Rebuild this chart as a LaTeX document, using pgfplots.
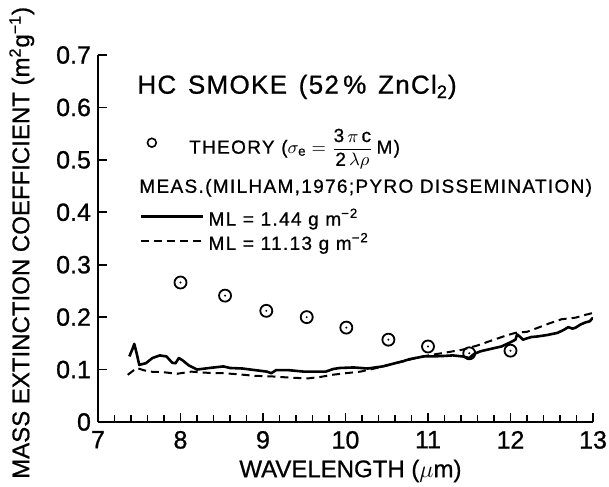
\documentclass[border=0pt]{standalone}
\usepackage{amsmath}
\usepackage{fontspec}
\setmainfont[FakeBold=0.8]{Liberation Sans}
\newfontfamily\legfont[LetterSpace=7,FakeBold=0.8]{Liberation Sans}
\newfontfamily\titfont[LetterSpace=5,FakeBold=0.8]{Liberation Sans}
\usepackage{pgfplots}
\pgfplotsset{compat=1.18}
\pgfdeclareplotmark{odot}{%
  \pgfpathcircle{\pgfpointorigin}{\pgfplotmarksize}\pgfusepathqstroke
  \pgfpathcircle{\pgfpointorigin}{0.55pt}\pgfusepathqfill}
\pgfplotsset{
  linelegend/.style={legend image code/.code={\draw[##1] (0pt,0pt) -- (31pt,0pt);}},
  marklegend/.style={legend image code/.code={\path plot[mark=o, mark size=2.2pt, mark options={line width=0.8pt}] coordinates {(5.3pt,0pt)};}},
}
\newcommand\mlstrut{\rule[-3.85pt]{0pt}{14.5pt}}
\begin{document}
\begin{tikzpicture}
\begin{axis}[
  name=ax,
  scale only axis, width=247.5pt, height=183.5pt,
  xmin=7, xmax=13, ymin=0, ymax=0.7,
  axis lines=left, axis line style={-, line width=1.2pt},
  xtick={7,8,9,10,11,12,13}, minor x tick num=4,
  ytick={0,0.1,0.2,0.3,0.4,0.5,0.6,0.7},
  yticklabels={0,0.1,0.2,0.3,0.4,0.5,0.6,0.7},
  tick align=inside,
  major tick length=4.5pt, minor tick length=3.5pt,
  every tick/.style={black, line width=0.9pt},
  /pgf/number format/assume math mode=true,
  tick label style={font=\fontsize{12.5}{14}\selectfont},
  xticklabel style={yshift=-1pt},
  xlabel={WAVELENGTH ($\mu$m)},
  ylabel={MASS EXTINCTION COEFFICIENT (m\textsuperscript{2}g\textsuperscript{−1})},
  label style={font=\fontsize{12}{14}\selectfont},
  xlabel style={at={(axis description cs:0.51,0)}, anchor=center, yshift=-24.5pt},
  ylabel style={at={(axis description cs:-0.154,0.488)}, anchor=center},
  legend cell align=left,
  legend style={draw=none, fill=none, inner sep=0pt, outer sep=0pt,
    at={(axis description cs:0.0848,0.799)}, anchor=north west,
    nodes={inner sep=0pt},
    font=\fontsize{9.5}{11}\legfont, row sep=0pt, column sep=2pt},
]
\addplot[only marks, mark=odot, mark size=3pt, mark options={line width=0.9pt}, marklegend]
coordinates {
(8.00,0.266) (8.54,0.241) (9.04,0.212) (9.53,0.200) (10.01,0.180)
(10.52,0.157) (11.00,0.144) (11.50,0.131) (12.00,0.136)
};
\addlegendentry{\hspace*{-9.7pt}THEORY ($\sigma_{\text{e}}=\dfrac{\text{3}\,\pi\,\text{c}}{\text{2}\,\lambda\rho}\,$M)}
\addlegendimage{empty legend}
\addlegendentry{\rule{0pt}{22.3pt}}
\addplot[black, line width=1.3pt, line join=round, linelegend]
coordinates {
(7.38,0.125) (7.42,0.140) (7.44,0.149) (7.47,0.130) (7.50,0.109) (7.58,0.112)
(7.66,0.122) (7.75,0.127) (7.83,0.125) (7.90,0.113) (7.94,0.112) (7.98,0.122)
(8.03,0.117) (8.10,0.108) (8.20,0.100) (8.35,0.103) (8.52,0.106) (8.60,0.103)
(8.75,0.102) (8.90,0.099) (9.05,0.096) (9.10,0.093) (9.16,0.099) (9.30,0.099)
(9.50,0.096) (9.76,0.096) (9.85,0.101) (9.93,0.103) (10.10,0.104) (10.27,0.102)
(10.45,0.106) (10.60,0.112) (10.70,0.116) (10.78,0.120) (10.95,0.125) (11.05,0.125)
(11.20,0.126) (11.30,0.127) (11.42,0.125) (11.50,0.122) (11.56,0.130) (11.64,0.135)
(11.75,0.139) (11.89,0.144) (12.00,0.152) (12.06,0.157) (12.08,0.167) (12.12,0.162)
(12.15,0.157) (12.25,0.162) (12.32,0.163) (12.45,0.166) (12.57,0.170) (12.65,0.176)
(12.70,0.181) (12.75,0.178) (12.79,0.180) (12.85,0.186) (12.91,0.190) (12.96,0.192)
(13.00,0.199)
};
\addlegendentry{\mlstrut ML = 1.44 g m\textsuperscript{−2}}
\addplot[black, line width=1pt, dash pattern=on 4pt off 2.5pt, linelegend]
coordinates {
(7.36,0.090) (7.42,0.097) (7.47,0.103) (7.55,0.099) (7.62,0.096) (7.79,0.095)
(7.96,0.092) (8.13,0.096) (8.30,0.094) (8.52,0.093) (8.70,0.091) (8.90,0.088)
(9.10,0.087) (9.29,0.085) (9.54,0.083) (9.70,0.086) (9.84,0.090) (10.00,0.093)
(10.18,0.096) (10.35,0.102) (10.53,0.109) (10.65,0.114) (10.78,0.119) (10.90,0.124)
(11.04,0.128) (11.20,0.132) (11.42,0.138) (11.60,0.146) (11.80,0.157) (11.95,0.165)
(12.06,0.170) (12.20,0.172) (12.32,0.179) (12.47,0.188) (12.62,0.196) (12.79,0.199)
(12.90,0.204) (13.00,0.208)
};
\addlegendentry{\mlstrut ML = 11.13 g m\textsuperscript{−2}}
\node[anchor=west, inner sep=0pt, font=\fontsize{13}{15}\titfont]
  at (axis description cs:0.0788,0.913)
  {HC\hspace{0.45em}SMOKE\hspace{0.45em}(52\,\%\hspace{0.45em}ZnCl\textsubscript{2})};
\node[anchor=west, inner sep=0pt, font=\fontsize{9.5}{11}\legfont]
  at (axis description cs:0.0828,0.638)
  {MEAS.(MILHAM,1976;PYRO DISSEMINATION)};
\end{axis}
\pgfresetboundingbox
\path[use as bounding box] ([shift={(-49pt,-32.5pt)}]ax.south west) rectangle ([shift={(8pt,27.5pt)}]ax.north east);
\end{tikzpicture}
\end{document}
